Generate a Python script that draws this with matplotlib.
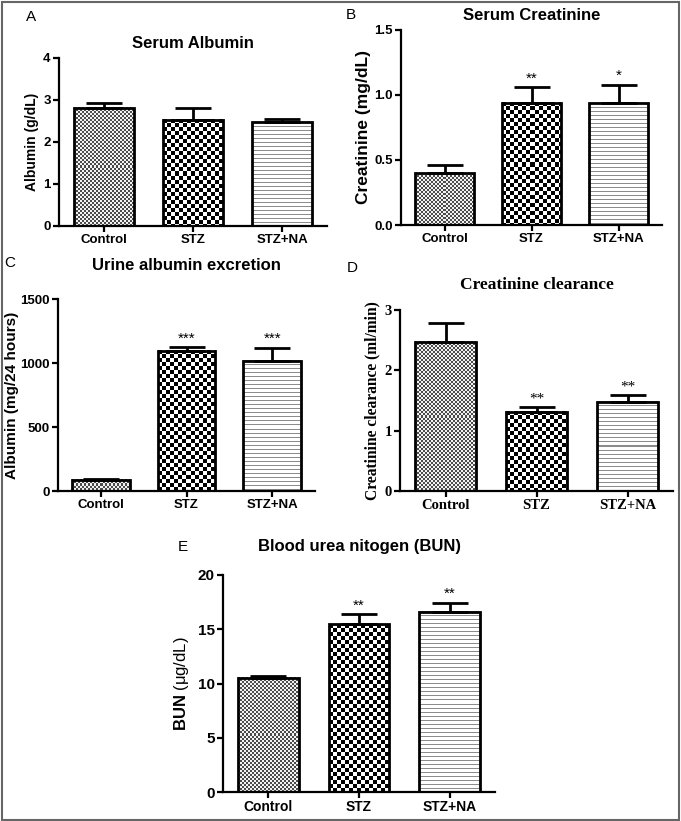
import matplotlib
matplotlib.use("Agg")
import matplotlib.pyplot as plt
from matplotlib.patches import Rectangle
import numpy as np

plt.rcParams["mathtext.fontset"] = "custom"
plt.rcParams["mathtext.rm"] = "Liberation Sans"
plt.rcParams["mathtext.bf"] = "Liberation Sans:bold"

groups = ["Control", "STZ", "STZ+NA"]

# panel A - serum albumin
alb_mean = [2.82, 2.53, 2.47]
alb_err = [0.11, 0.29, 0.07]
alb_stars = ["", "", ""]

# panel B - serum creatinine
cre_mean = [0.40, 0.94, 0.935]
cre_err = [0.065, 0.12, 0.145]
cre_stars = ["", "**", "*"]

# panel C - urine albumin
ua_mean = [86, 1096, 1018]
ua_err = [6, 26, 102]
ua_stars = ["", "***", "***"]

# panel D - creatinine clearance
cc_mean = [2.47, 1.31, 1.48]
cc_err = [0.31, 0.08, 0.11]
cc_stars = ["", "**", "**"]

# panel E - BUN
bun_mean = [10.53, 15.45, 16.6]
bun_err = [0.17, 0.95, 0.85]
bun_stars = ["", "**", "**"]

W, H = 681, 821
fig = plt.figure(figsize=(W / 100, H / 100), dpi=100)


def px_axes(l, r, t, b):
    return fig.add_axes([l / W, 1 - b / H, (r - l) / W, (b - t) / H])


def pattern(kind, h, w):
    yy, xx = np.mgrid[0:h, 0:w]
    if kind == "fine":
        chk = ((yy // 2 + xx // 2) % 2) == 0
        return np.where(chk, 0.3, 0.95)
    if kind == "coarse":
        chk = ((yy // 4 + xx // 4) % 2) == 0
        return np.where(chk, 0.0, 1.0)
    return np.where(yy % 4 == 0, 0.55, 1.0)


kinds = ["fine", "coarse", "lines"]


def panel(ax, means, errs, stars, ymax, yticks, ylabel, title, title_pad,
          family, tick_fmt=None, ylab_size=10, ylab_pad=3, xtick_size=9.5,
          ytick_size=9.5, title_size=12, ylab_weight="bold"):
    x = np.arange(len(groups))
    ax.set_xlim(-0.5, 2.5)
    ax.set_ylim(0, ymax)
    bars = ax.bar(x, means, width=0.67, facecolor="none", edgecolor="black",
                  linewidth=2.0, zorder=3)
    for b, k in zip(bars, kinds):
        bb = b.get_window_extent()
        img = pattern(k, max(int(round(bb.height)), 1), max(int(round(bb.width)), 1))
        ax.imshow(img, cmap="gray", vmin=0, vmax=1, aspect="auto",
                  interpolation="nearest", zorder=2,
                  extent=(b.get_x(), b.get_x() + b.get_width(), 0, b.get_height()))
    ax.set_xlim(-0.5, 2.5)
    ax.set_ylim(0, ymax)
    ax.errorbar(x, means, yerr=[np.zeros(len(errs)), errs], fmt="none",
                ecolor="black", elinewidth=2.0, capsize=13, capthick=2.0, zorder=4)
    for xi, m, e, s in zip(x, means, errs, stars):
        if s:
            ax.annotate(s, (xi, m + e), xytext=(0, 1), textcoords="offset points",
                        ha="center", va="bottom", fontsize=11, family=family)
    for sp in ["top", "right"]:
        ax.spines[sp].set_visible(False)
    for sp in ["left", "bottom"]:
        ax.spines[sp].set_linewidth(1.6)
    ax.set_yticks(yticks)
    if tick_fmt:
        ax.set_yticklabels([tick_fmt % v for v in yticks])
    ax.set_xticks(x)
    ax.set_xticklabels(groups)
    ax.tick_params(axis="both", width=1.6, length=4, pad=2)
    ax.tick_params(axis="x", labelsize=xtick_size)
    ax.tick_params(axis="y", labelsize=ytick_size)
    for lab in ax.get_xticklabels() + ax.get_yticklabels():
        lab.set_fontweight("bold")
        lab.set_family(family)
    ax.set_ylabel(ylabel, fontsize=ylab_size, fontweight=ylab_weight,
                  family=family, labelpad=ylab_pad)
    ax.set_title(title, fontsize=title_size, fontweight="bold", family=family,
                 pad=title_pad)


sans = "Liberation Sans"
serif = "Liberation Serif"

axA = px_axes(59, 327, 58, 226)
panel(axA, alb_mean, alb_err, alb_stars, 4, [0, 1, 2, 3, 4], "Albumin (g/dL)",
      "Serum Albumin", 7, sans)

axB = px_axes(401, 662, 30, 225)
panel(axB, cre_mean, cre_err, cre_stars, 1.5, [0.0, 0.5, 1.0, 1.5],
      "Creatinine (mg/dL)", "Serum Creatinine", 7, sans, "%.1f", ylab_size=12.5,
      ylab_pad=2)

axC = px_axes(58, 315, 299, 491)
panel(axC, ua_mean, ua_err, ua_stars, 1500, [0, 500, 1000, 1500],
      "Albumin (mg/24 hours)", "Urine albumin excretion", 21, sans,
      ylab_size=11, ylab_pad=1)

axD = px_axes(400, 673, 310, 491)
panel(axD, cc_mean, cc_err, cc_stars, 3, [0, 1, 2, 3],
      "Creatinine clearance (ml/min)", "Creatinine clearance", 15, serif,
      ylab_size=11.2, ylab_pad=3, xtick_size=10.5, ytick_size=10.5,
      title_size=12.5)

axE = px_axes(223, 495, 575, 792)
panel(axE, bun_mean, bun_err, bun_stars, 20, [0, 5, 10, 15, 20],
      "$\\mathbf{BUN}$ (\u03bcg/dL)", "Blood urea nitogen (BUN)", 17, sans,
      ylab_size=12, ylab_pad=5, xtick_size=10, ytick_size=11,
      ylab_weight="normal")

# panel letters
for lab, (px, py) in zip("ABCDE", [(31, 17), (351, 15), (10, 263), (352, 268), (183, 547)]):
    fig.text(px / W, 1 - py / H, lab, fontsize=11, family=sans,
             ha="center", va="center")

# outer frame
fig.patches.append(Rectangle((1.5 / W, 1.5 / H), (W - 4) / W, (H - 4) / H,
                             transform=fig.transFigure, fill=False,
                             edgecolor="#666666", linewidth=1.5))

fig.savefig("out.png", dpi=100)
